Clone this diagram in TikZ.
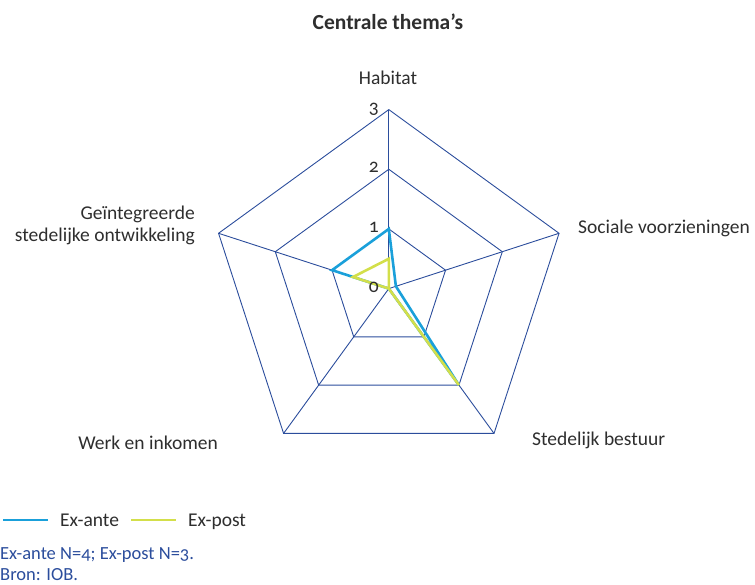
\documentclass[tikz,border=0pt]{standalone}
\usepackage{fontspec}
\setmainfont[Numbers=OldStyle]{Carlito}
\usetikzlibrary{calc}
\definecolor{gridblue}{HTML}{2B4D9C}
\definecolor{anteblue}{HTML}{1AA0DA}
\definecolor{postyellow}{HTML}{D3DF4A}
\definecolor{txtgray}{HTML}{2E2E2E}
\tikzset{
  gridline/.style={draw=gridblue, line width=0.9pt},
  exante/.style={draw=anteblue, line width=2.6pt},
  expost/.style={draw=postyellow, line width=2.6pt},
  axislabel/.style={font=\fontsize{19.5}{22}\selectfont, text=txtgray, inner sep=0pt},
  scalelabel/.style={font=\fontsize{19.5}{22}\selectfont, text=txtgray, inner sep=0pt, anchor=base east},
  notetext/.style={font=\fontsize{18.5}{21}\selectfont, text=gridblue, inner sep=0pt, anchor=base west},
}
\begin{document}
\begin{tikzpicture}[x=1pt,y=-1pt]
\useasboundingbox (0,0) rectangle (755,584);
\coordinate (C) at (388.8,288.6);
\def\st{59.67}
\begin{scope}[shift={(C)}]
  \foreach \k in {1,2,3} {
    \coordinate (h\k) at (-90:\k*\st);
    \coordinate (s\k) at (-18:\k*\st);
    \coordinate (b\k) at (54:\k*\st);
    \coordinate (w\k) at (126:\k*\st);
    \coordinate (g\k) at (198:\k*\st);
    \draw[gridline] (h\k) -- (s\k) -- (b\k) -- (w\k) -- (g\k) -- cycle;
  }
  \coordinate (O) at (0,0);
  \foreach \a in {h,s,b,w,g} \draw[gridline] (O) -- (\a3);
  % data
  \coordinate (ah) at (-90:\st);
  \coordinate (as) at (-18:0.125*\st);
  \coordinate (ab) at (54:2*\st);
  \coordinate (ag) at (198:\st);
  \draw[exante] (ah) -- (as) -- (ab) -- (O) -- (ag) -- cycle;
  \coordinate (ph) at (-90:0.5*\st);
  \coordinate (pb) at (54:2*\st);
  \coordinate (pg) at (198:0.63*\st);
  \draw[expost] (ph) -- (O) -- (pb) -- (O) -- (pg) -- cycle;
\end{scope}
% scale labels
\node[scalelabel] (l0) at (379,292.1) {0};
\node[scalelabel] (l1) at (379,232.4) {1};
\node[scalelabel] (l2) at (379,172.8) {2};
\node[scalelabel] (l3) at (379,113.2) {3};
% title and axis labels
\node[axislabel, font=\fontsize{21.5}{24}\selectfont\bfseries] (title) at (388,22) {Centrale thema’s};
\node[axislabel] (lh) at (388,78) {Habitat};
\node[axislabel, anchor=west] (ls) at (578,228) {Sociale voorzieningen};
\node[axislabel, anchor=west] (lb) at (532,440) {Stedelijk bestuur};
\node[axislabel, anchor=east] (lw) at (218,443) {Werk en inkomen};
\node[axislabel, anchor=east, align=right] (lg) at (195,225) {Geïntegreerde\\stedelijke ontwikkeling};
% legend
\coordinate (la1) at (3,520);
\coordinate (la2) at (48,520);
\coordinate (lp1) at (131,520);
\coordinate (lp2) at (176,520);
\draw[exante] (la1) -- (la2);
\draw[expost] (lp1) -- (lp2);
\node[axislabel, anchor=base west] (ta) at (60,526.5) {Ex-ante};
\node[axislabel, anchor=base west] (tp) at (188,526.5) {Ex-post};
\node[notetext] (n1) at (0,559) {Ex-ante N=4; Ex-post N=3.};
\node[notetext] (n2) at (0,580) {Bron: IOB.};
\end{tikzpicture}
\end{document}
